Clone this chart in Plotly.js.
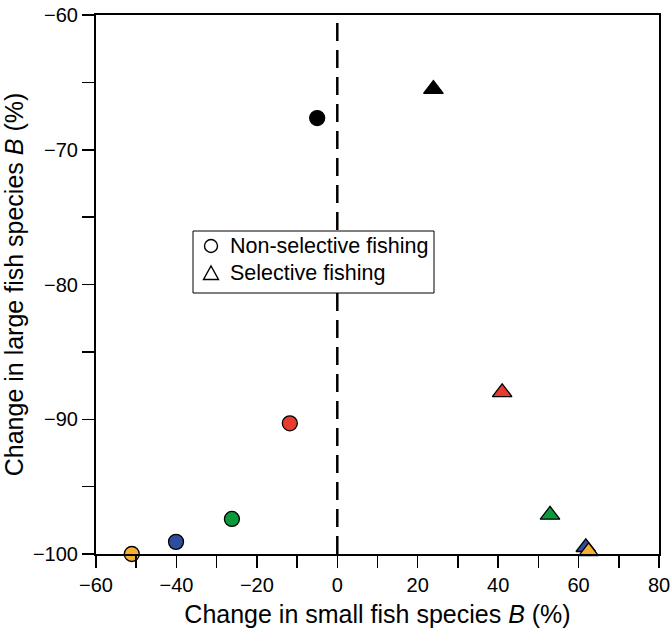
<!DOCTYPE html>
<html>
<head>
<meta charset="utf-8">
<script src="https://cdn.plot.ly/plotly-3.0.1.min.js"></script>
<style>html,body{margin:0;padding:0;background:#fff;}#chart{width:672px;height:629px;}</style>
</head>
<body>
<div id="chart"></div>
<script>
// Data
const pointColors = ['#000000', '#E63B2E', '#0A9A3C', '#2D4E9E', '#F6B133'];
const nonSelectiveX = [-5.0, -11.8, -26.2, -40.1, -51.1];
const nonSelectiveY = [-67.65, -90.3, -97.4, -99.1, -100.0];
const selectiveX = [23.9, 41.0, 52.9, 61.8, 62.5];
const selectiveY = [-65.5, -88.0, -97.1, -99.5, -99.8];
const legendNames = ['Non-selective fishing', 'Selective fishing'];
const xTickVals = [-60, -50, -40, -30, -20, -10, 0, 10, 20, 30, 40, 50, 60, 70, 80];
const xTickText = ['\u221260', '', '\u221240', '', '\u221220', '', '0', '', '20', '', '40', '', '60', '', '80'];
const yTickVals = [-100, -95, -90, -85, -80, -75, -70, -65, -60];
const yTickText = ['\u2212100', '', '\u221290', '', '\u221280', '', '\u221270', '', '\u221260'];

const font = 'Liberation Sans, Arial, Helvetica, sans-serif';

// plot-area geometry (pixels) used to place the hand-drawn legend
const W = 672, H = 629, M = {l: 96, r: 13, t: 15, b: 75};
const pw = W - M.l - M.r, ph = H - M.t - M.b;
const px = v => (v - M.l) / pw;
const py = v => 1 - (v - M.t) / ph;

const traces = [
  {
    x: nonSelectiveX, y: nonSelectiveY, type: 'scatter', mode: 'markers',
    showlegend: false, cliponaxis: false, hoverinfo: 'skip',
    marker: {symbol: 'circle', size: 15, color: pointColors, line: {color: '#000', width: 1.3}}
  },
  {
    x: selectiveX, y: selectiveY, type: 'scatter', mode: 'markers',
    showlegend: false, cliponaxis: false, hoverinfo: 'skip',
    marker: {symbol: 'triangle-up', size: 17, color: pointColors, line: {color: '#000', width: 1.3}}
  }
];

// legend geometry
const box = {x0: 193, x1: 434, y0: 231, y1: 293};
const row1 = 246, row2 = 273, symX = 211, textX = 228, r = 6.5;
const triPath = 'M ' + px(symX - 7.5) + ',' + py(row2 + 6.5) +
                ' L ' + px(symX + 7.5) + ',' + py(row2 + 6.5) +
                ' L ' + px(symX) + ',' + py(row2 - 7) + ' Z';

const layout = {
  width: W, height: H,
  margin: M,
  paper_bgcolor: '#fff', plot_bgcolor: '#fff',
  font: {family: font, color: '#000', size: 20},
  showlegend: false,
  xaxis: {
    range: [-60, 80], autorange: false,
    tickmode: 'array', tickvals: xTickVals, ticktext: xTickText,
    ticks: 'outside', ticklen: 12, tickwidth: 1.5, tickcolor: '#000',
    showline: true, linecolor: '#000', linewidth: 2, mirror: true,
    showgrid: false, zeroline: false,
    tickfont: {family: font, size: 20},
    title: {text: 'Change in small fish species <i>B</i> (%)', font: {family: font, size: 25}, standoff: 10}
  },
  yaxis: {
    range: [-100, -60], autorange: false,
    tickmode: 'array', tickvals: yTickVals, ticktext: yTickText,
    ticks: 'outside', ticklen: 12, tickwidth: 1.5, tickcolor: '#000',
    showline: true, linecolor: '#000', linewidth: 2, mirror: true,
    showgrid: false, zeroline: false,
    tickfont: {family: font, size: 20},
    title: {text: 'Change in large fish species <i>B</i> (%)', font: {family: font, size: 25}, standoff: 4}
  },
  shapes: [
    {type: 'line', xref: 'x', yref: 'paper', x0: 0, x1: 0, y0: 0, y1: 1,
     line: {color: '#000', width: 2.5, dash: '18px,9px'}, layer: 'below'},
    {type: 'rect', xref: 'paper', yref: 'paper',
     x0: px(box.x0), x1: px(box.x1), y0: py(box.y1), y1: py(box.y0),
     line: {color: '#000', width: 1}, fillcolor: '#fff', layer: 'above'},
    {type: 'circle', xref: 'paper', yref: 'paper',
     x0: px(symX - r), x1: px(symX + r), y0: py(row1 + r), y1: py(row1 - r),
     line: {color: '#000', width: 1.4}, fillcolor: 'rgba(0,0,0,0)', layer: 'above'},
    {type: 'path', xref: 'paper', yref: 'paper', path: triPath,
     line: {color: '#000', width: 1.4}, fillcolor: 'rgba(0,0,0,0)', layer: 'above'}
  ],
  annotations: [
    {xref: 'paper', yref: 'paper', x: px(textX), y: py(row1), xanchor: 'left', yanchor: 'middle',
     text: legendNames[0], showarrow: false, font: {family: font, size: 21.5, color: '#000'}},
    {xref: 'paper', yref: 'paper', x: px(textX), y: py(row2), xanchor: 'left', yanchor: 'middle',
     text: legendNames[1], showarrow: false, font: {family: font, size: 21.5, color: '#000'}}
  ]
};

Plotly.newPlot('chart', traces, layout, {displayModeBar: false, staticPlot: true});
</script>
</body>
</html>
